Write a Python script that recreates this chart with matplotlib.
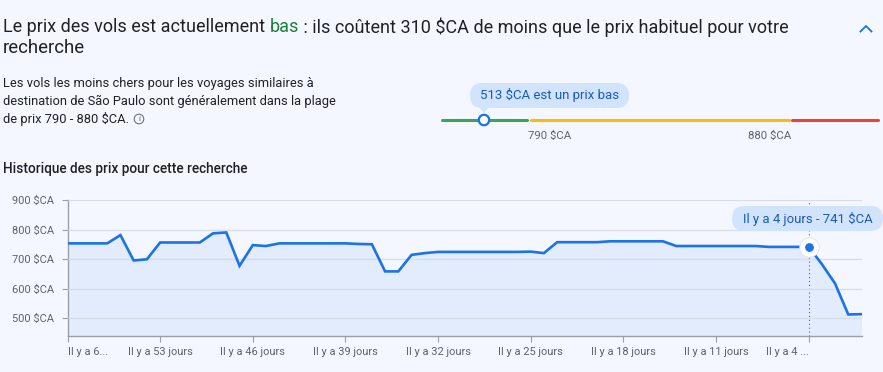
import matplotlib
matplotlib.use("Agg")
import matplotlib.pyplot as plt
from matplotlib.patches import FancyBboxPatch, Circle, Polygon

# Price history
days_ago = list(range(60, -1, -1))
prices = [753, 753, 753, 753, 781, 695, 699, 756, 756, 756, 756, 787, 790, 677, 747, 744,
          753, 753, 753, 753, 753, 753, 751, 750, 658, 658, 714, 720, 724,
          724, 724, 724, 724, 724, 724, 725, 720, 757, 757, 757, 757, 760, 760, 760, 760, 760,
          744, 744, 744, 744, 744, 744, 744, 741, 741, 741, 741, 683, 617, 512, 513]
current_day = 4
current_price = 741

y_ticks = [500, 600, 700, 800, 900]
x_ticks = [60, 53, 46, 39, 32, 25, 18, 11, 4]
x_labels = ["Il y a 6...", "Il y a 53 jours", "Il y a 46 jours", "Il y a 39 jours", "Il y a 32 jours",
            "Il y a 25 jours", "Il y a 18 jours", "Il y a 11 jours", "Il y a 4 ..."]

W, H = 883, 372
BG = "#f4f7ff"
BLUE = "#1a73e8"
TEXT = "#202124"
GREY = "#5f6368"

plt.rcParams["font.family"] = ["Roboto", "DejaVu Sans"]

fig = plt.figure(figsize=(W / 100, H / 100), dpi=100, facecolor=BG)

# Chart axes, placed in pixels
left, right, top, bottom = 67.5, 861.5, 200, 335.7
ax = fig.add_axes([left / W, (H - bottom) / H, (right - left) / W, (bottom - top) / H])
ax.set_facecolor("none")
ax.set_xlim(60, 0)
ax.set_ylim(440, 900)
ax.fill_between(days_ago, prices, 440, color="#e2ecfd", lw=0, zorder=1)
ax.yaxis.grid(True, color="#d8dee9", lw=1, zorder=2)
ax.set_axisbelow(False)
ax.plot(days_ago, prices, color=BLUE, lw=1.9, solid_joinstyle="miter", zorder=3)
ax.axvline(current_day, color=GREY, lw=0.8, ls=(0, (1, 2.5)), zorder=2.5, ymin=0, ymax=1)
ax.plot([current_day], [current_price], "o", ms=14, mfc="white", mec="#dfe3ea", mew=0.6, zorder=4)
ax.plot([current_day], [current_price], "o", ms=6.3, mfc=BLUE, mec=BLUE, mew=0, zorder=5)

for side in ["top", "right"]:
    ax.spines[side].set_visible(False)
for side in ["left", "bottom"]:
    ax.spines[side].set_color("#9aa0a6")
    ax.spines[side].set_linewidth(1)

ax.set_yticks(y_ticks)
ax.set_yticklabels([f"{v} $CA" for v in y_ticks])
ax.set_xticks(x_ticks)
ax.set_xticklabels(x_labels)
ax.tick_params(axis="both", labelsize=7.9, labelcolor=GREY, color="#9aa0a6", length=4, width=0.8)
ax.tick_params(axis="y", pad=5.5)
ax.tick_params(axis="x", pad=4)
tick_texts = ax.get_xticklabels()
tick_texts[0].set_ha("left")
tick_texts[-1].set_ha("right")

# Overlay in pixel coordinates for the text and the slider
ov = fig.add_axes([0, 0, 1, 1], zorder=5)
ov.set_xlim(0, W)
ov.set_ylim(H, 0)
ov.axis("off")

# Title, three pieces side by side
renderer = fig.canvas.get_renderer()
x = 3
for piece, color in [("Le prix des vols est actuellement ", TEXT), ("bas", "#188038"),
                     (" : ils coûtent 310 $CA de moins que le prix habituel pour votre", TEXT)]:
    t = ov.text(x, 27, piece, fontsize=13, color=color, va="center", ha="left")
    x = t.get_window_extent(renderer).x1
ov.text(3, 48, "recherche", fontsize=13.4, color=TEXT, va="center")

# Chevron
ov.plot([860.5, 866, 871.5], [31.5, 26, 31.5], color=BLUE, lw=1.3)

body = ["Les vols les moins chers pour les voyages similaires à",
        "destination de São Paulo sont généralement dans la plage",
        "de prix 790 - 880 $CA."]
for y, line in zip([83, 101, 119], body):
    ov.text(3, y, line, fontsize=9.3, color=TEXT, va="center")
ov.add_patch(Circle((139, 119), 4.8, fc="none", ec=GREY, lw=0.7))
ov.text(139, 119, "i", fontsize=6, color=GREY, ha="center", va="center")

ov.text(3, 169, "Historique des prix pour cette recherche", fontsize=9.8, color=TEXT,
        fontweight="medium", va="center")

# Price range slider
ov.plot([442, 527], [120, 120], color="#34a853", lw=2.2, solid_capstyle="round")
ov.plot([530.5, 788.5], [120, 120], color="#fbbc04", lw=2.2, solid_capstyle="round")
ov.plot([792, 878], [120, 120], color="#ea4335", lw=2.2, solid_capstyle="round")
ov.add_patch(Circle((484, 120), 5.2, fc="white", ec=BLUE, lw=1.6, zorder=6))
ov.text(528, 136, "790 $CA", fontsize=8.2, color=GREY, ha="left", va="center")
ov.text(791, 136, "880 $CA", fontsize=8.2, color=GREY, ha="right", va="center")

PILL = "#d2e3fc"
PILL_TEXT = "#185abc"
ov.add_patch(FancyBboxPatch((470, 83), 159, 25, boxstyle="round,pad=0,rounding_size=12.5",
                            fc=PILL, ec="none"))
ov.add_patch(Polygon([[479, 107], [489, 107], [484, 113]], fc=PILL, ec="none"))
ov.text(549.5, 95.5, "513 $CA est un prix bas", fontsize=9.5, color=PILL_TEXT,
        ha="center", va="center")

ov.add_patch(FancyBboxPatch((732, 206), 151, 25, boxstyle="round,pad=0,rounding_size=12.5",
                            fc=PILL, ec="none"))
ov.text(807.5, 219, f"Il y a {current_day} jours - {current_price} $CA", fontsize=9.45, color=PILL_TEXT,
        ha="center", va="center")

fig.savefig("out.png", dpi=100, facecolor=BG)
